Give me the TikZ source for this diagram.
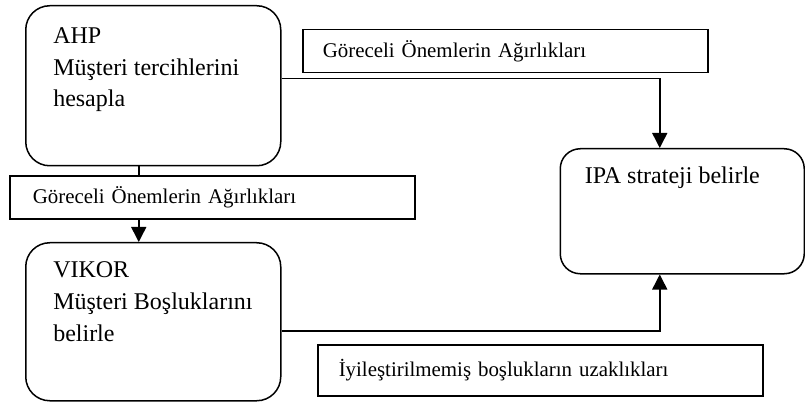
\documentclass[tikz,border=0pt]{standalone}
\usepackage{fontspec}
\setmainfont{Liberation Serif}
\usetikzlibrary{arrows.meta}
\begin{document}
\begin{tikzpicture}[x=1pt,y=-1pt,
  line width=1.5pt,
  proc/.style={draw, rounded corners=24pt, anchor=north west, inner sep=0pt},
  proctext/.style={anchor=north west, align=left, inner sep=0pt,
    font=\fontsize{24}{31.7}\selectfont},
  lbl/.style={draw, anchor=north west, inner sep=0pt, align=left,
    font=\fontsize{20.9}{22}\selectfont},
  arr/.style={-{Triangle[width=15pt,length=15pt]}}]
\useasboundingbox (0,0) rectangle (805,403);

% process boxes
\node[proc, minimum width=255pt, minimum height=160pt] (ahp) at (25,5) {};
\node[proctext] (ahptext) at (52.5,27) {AHP\\Müşteri tercihlerini\\hesapla};

\node[proc, minimum width=255pt, minimum height=158pt] (vikor) at (25,242) {};
\node[proctext] (vikortext) at (52.5,261) {VIKOR\\Müşteri Boşluklarını\\belirle};

\node[proc, minimum width=244pt, minimum height=125pt, rounded corners=20pt] (ipa) at (559.5,148) {};
\node[proctext] (ipatext) at (584,166) {IPA strateji belirle};

% flow labels
\node[lbl, minimum width=405pt, minimum height=43pt, text width=365pt, inner xsep=20pt] (w1) at (302,29) {Göreceli Önemlerin Ağırlıkları};
\node[lbl, minimum width=405pt, minimum height=43pt, text width=359pt, inner xsep=23pt] (w2) at (9,175.5) {Göreceli Önemlerin Ağırlıkları};
\node[lbl, minimum width=445pt, minimum height=51pt, text width=403pt, inner xsep=21pt] (gap) at (317,344) {İyileştirilmemiş boşlukların uzaklıkları};

% connectors
\coordinate (down) at ([xshift=-14.5pt]ahp.south);
\draw (down) -- (down |- w2.north);
\draw[arr] (down |- w2.south) -- (down |- vikor.north);

\coordinate (top) at ([xshift=-22.5pt]ipa.north);
\draw[arr] ([yshift=7pt]ahp.east) -| (top);

\coordinate (bot) at ([xshift=-22.5pt]ipa.south);
\draw[arr] ([yshift=-9pt]vikor.east) -| (bot);
\end{tikzpicture}
\end{document}
